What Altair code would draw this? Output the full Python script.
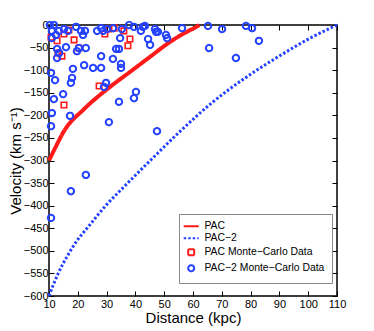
import altair as alt
import pandas as pd

# ---- data ----
pac_d = [10, 12, 15.2, 22.2, 31.2, 38.1, 45.8, 51.0, 55.1, 61.4, 62.2]
pac_v = [-300, -274, -235, -186, -137, -104, -67, -42, -25, -3, 0]

pac2_d = [10, 11.5, 13.2, 16.5, 20, 23.2, 29.7, 37, 45.8, 55.1, 66.6, 78.4, 89.9, 101.3, 110]
pac2_v = [-600, -575, -550, -510, -475, -450, -400, -352, -296, -238, -172, -116, -69, -27, 0]

red_d = [10.7, 12.8, 15.2, 16.9, 18.7, 20.4, 13.1, 14.5, 29.4, 30.8, 32.6, 36.0, 38.1, 37.4, 27.4, 15.2]
red_v = [-27, -35, -20, -11, -33, -51, -62, -69, -20, -9, -7, -13, -31, -46, -135, -177]

blue_d = [10.3, 11.7, 11.0, 12.4, 13.5, 15.2, 16.6, 19.4, 21.1, 22.5, 21.8, 26.7, 28.1, 28.8,
          30.1, 32.2, 35.3, 37.8, 39.5, 41.9, 42.6, 43.3, 46.8, 47.2, 47.8, 50.6, 51.0, 56.2,
          65.2, 70.1, 78.4, 80.5, 11.0, 44.4, 45.1, 34.3, 33.3, 35.0, 35.0, 34.7, 12.8, 13.5,
          12.8, 15.9, 19.7, 20.4, 22.8, 28.1, 18.3, 22.2, 25.3, 28.1, 32.2, 10.7, 12.1, 17.6,
          18.0, 14.9, 11.7, 11.0, 17.3, 10.7, 29.1, 29.8, 34.3, 30.8, 39.5, 40.2, 47.5, 65.6,
          74.9, 82.9, 10.7, 17.6, 22.8]
blue_v = [0, 0, -13, -22, -13, -9, -13, -4, -13, -13, -22, -13, -7, -13,
          -9, -7, -9, 0, -4, -13, -4, -2, -9, -15, -15, -22, -29, -7,
          -2, -9, -2, -7, -29, -31, -44, -53, -53, -86, -95, -29, -53, -62,
          -73, -49, -58, -51, -51, -69, -97, -89, -95, -95, -75, -106, -122, -128,
          -117, -153, -164, -195, -201, -224, -137, -128, -170, -215, -162, -148, -235, -51,
          -73, -35, -427, -368, -332]

x_ticks = [10, 20, 30, 40, 50, 60, 70, 80, 90, 100, 110]
y_ticks = [-600, -550, -500, -450, -400, -350, -300, -250, -200, -150, -100, -50, 0]

series = ["PAC", "PAC\u22122", "PAC Monte\u2212Carlo Data", "PAC\u22122 Monte\u2212Carlo Data"]
colors = ["#ff1a1a", "#2442ff", "#ff1a1a", "#2442ff"]
shapes = ["M-2.5,0H2.5", "M-2.5,0H2.5", "square", "circle"]
dashes = [[1, 0], [2.5, 2], [1, 0], [1, 0]]

pac_df = pd.DataFrame({"d": pac_d, "v": pac_v, "s": series[0]})
pac2_df = pd.DataFrame({"d": pac2_d, "v": pac2_v, "s": series[1]})
red_df = pd.DataFrame({"d": red_d, "v": red_v, "s": series[2]})
blue_df = pd.DataFrame({"d": blue_d, "v": blue_v, "s": series[3]})

FONT = "Liberation Sans"
xscale = alt.Scale(domain=[10, 110], nice=False, zero=False)
yscale = alt.Scale(domain=[-600, 0], nice=False, zero=False)

x_axis = alt.Axis(values=x_ticks, title="Distance (kpc)", offset=-5, tickSize=5, domain=False,
                  labelPadding=2, grid=False, titlePadding=1, tickColor="black",
                  labelFlush=False, labelOverlap=False)
y_axis = alt.Axis(values=y_ticks, title="Velocity (km s\u207b\u00b9)", offset=-5, tickSize=5,
                  domain=False, labelPadding=1, grid=False, titlePadding=0, tickColor="black",
                  labelFlush=False, labelOverlap=False)

legend = alt.Legend(title=None, symbolFillColor="transparent")
color = alt.Color("s:N", scale=alt.Scale(domain=series, range=colors), legend=legend)
shape = alt.Shape("s:N", scale=alt.Scale(domain=series, range=shapes), legend=legend)
dash = alt.StrokeDash("s:N", scale=alt.Scale(domain=series, range=dashes), legend=legend)
nofill = alt.value("transparent")

X = alt.X("d:Q", scale=xscale, axis=x_axis)
Y = alt.Y("v:Q", scale=yscale, axis=y_axis)

pac_line = alt.Chart(pac_df).mark_line(strokeWidth=4, interpolate="monotone").encode(
    x=X, y=Y, color=color, strokeDash=dash, shape=shape, fill=nofill)
pac2_line = alt.Chart(pac2_df).mark_line(strokeWidth=3, interpolate="monotone",
                                         strokeCap="butt").encode(
    x=X, y=Y, color=color, strokeDash=dash, shape=shape, fill=nofill)
red_pts = alt.Chart(red_df).mark_point(filled=False, size=30, strokeWidth=1.6, opacity=1).encode(
    x=X, y=Y, color=color, shape=shape, strokeDash=dash, fill=nofill)
blue_pts = alt.Chart(blue_df).mark_point(filled=False, size=40, strokeWidth=2, opacity=1).encode(
    x=X, y=Y, color=color, shape=shape, strokeDash=dash, fill=nofill)

main = alt.layer(pac_line, pac2_line, red_pts, blue_pts)

frame = alt.Chart(pac2_df).mark_point(opacity=0).encode(
    x=alt.X("d:Q", scale=xscale,
            axis=alt.Axis(orient="top", values=x_ticks, labels=False, title=None, offset=-5,
                          tickSize=5, domain=False, grid=False, tickColor="black")),
    y=alt.Y("v:Q", scale=yscale,
            axis=alt.Axis(orient="right", values=y_ticks, labels=False, title=None, offset=-5,
                          tickSize=5, domain=False, grid=False, tickColor="black")),
)

chart = alt.layer(main, frame).resolve_axis(x="independent", y="independent").properties(
    width=288, height=271, padding={"left": 0, "top": 9, "right": 5, "bottom": 5}
).configure_view(stroke="black", strokeWidth=1.5).configure_axis(
    labelFont=FONT, titleFont=FONT, labelFontSize=11, titleFontSize=15, titleFontWeight="normal",
    labelColor="black", titleColor="black"
).configure_legend(
    orient="none", legendX=130, legendY=189, fillColor="white", strokeColor="#888888",
    padding=7, labelOffset=8, rowPadding=1, symbolStrokeWidth=2, symbolSize=36,
    labelFont=FONT, labelFontSize=10.4, labelColor="black", cornerRadius=0
)

chart.save("out.html", embed_options={"renderer": "svg", "actions": False})
